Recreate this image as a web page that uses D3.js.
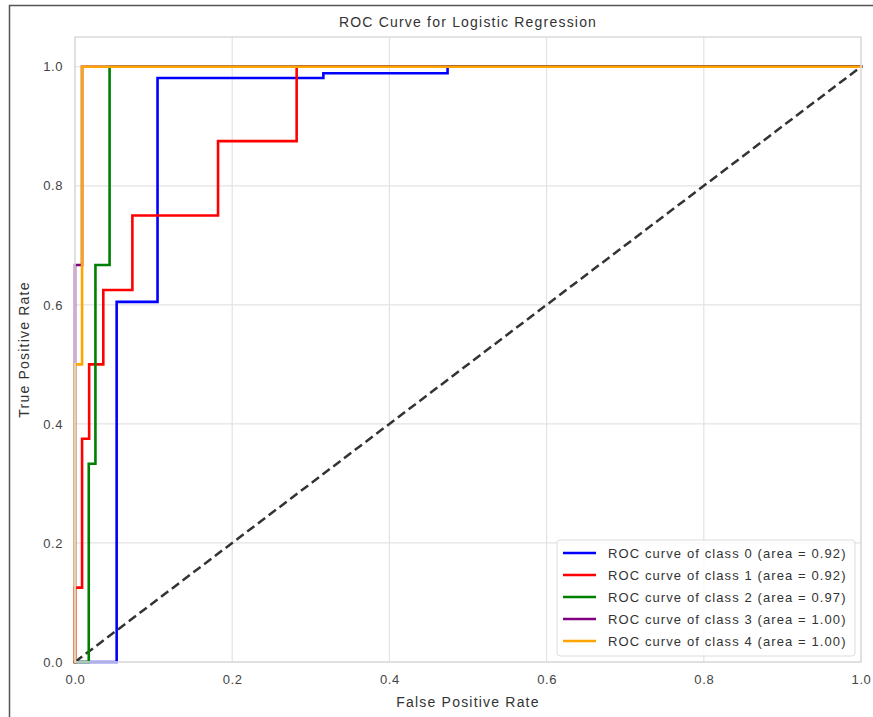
<!DOCTYPE html>
<html>
<head>
<meta charset="utf-8">
<script src="https://cdn.jsdelivr.net/npm/d3@7"></script>
<style>
  html, body { margin: 0; padding: 0; background: #fff; }
  svg { display: block; font-family: "Liberation Sans", Arial, sans-serif; }
</style>
</head>
<body>
<div id="chart"></div>
<script>
// --- Data ---
const classNames = ['class 0', 'class 1', 'class 2', 'class 3', 'class 4'];
const classColors = ['#0000ff', '#ff0000', '#008000', '#800080', '#ffa500'];
const classAreas = ['0.92', '0.92', '0.97', '1.00', '1.00'];

const fpr0 = [0, 0.053, 0.053, 0.105, 0.105, 0.316, 0.316, 0.474, 0.474, 1];
const tpr0 = [0, 0, 0.605, 0.605, 0.981, 0.981, 0.989, 0.989, 1, 1];

const fpr1 = [0, 0, 0.009, 0.009, 0.018, 0.018, 0.036, 0.036, 0.073, 0.073, 0.182, 0.182, 0.282, 0.282, 1];
const tpr1 = [0, 0.125, 0.125, 0.375, 0.375, 0.5, 0.5, 0.625, 0.625, 0.75, 0.75, 0.875, 0.875, 1, 1];

const fpr2 = [0, 0.0175, 0.0175, 0.026, 0.026, 0.044, 0.044, 1];
const tpr2 = [0, 0, 0.333, 0.333, 0.667, 0.667, 1, 1];

const fpr3 = [0, 0, 0.009, 0.009, 1];
const tpr3 = [0, 0.667, 0.667, 1, 1];

const fpr4 = [0, 0, 0.009, 0.009, 1];
const tpr4 = [0, 0.5, 0.5, 1, 1];

const fprs = [fpr0, fpr1, fpr2, fpr3, fpr4];
const tprs = [tpr0, tpr1, tpr2, tpr3, tpr4];

const diagonal = [0, 1];
const tickValues = [0, 0.2, 0.4, 0.6, 0.8, 1.0];

// --- Layout ---
const width = 873, height = 717;
const plot = {left: 75, right: 861, top: 37, bottom: 662};

const svg = d3.select('#chart').append('svg')
  .attr('width', width)
  .attr('height', height);

// outer frame of the screenshot (top and left edges only visible)
svg.append('rect')
  .attr('x', 9.5).attr('y', 5.5)
  .attr('width', width + 20).attr('height', height + 20)
  .attr('fill', 'none')
  .attr('stroke', '#555')
  .attr('stroke-width', 1.5);

const x = d3.scaleLinear().domain([0, 1]).range([plot.left, plot.right]);
const y = d3.scaleLinear().domain([0, 1.05]).range([plot.bottom, plot.top]);

// Grid
const grid = svg.append('g').attr('class', 'grid');
grid.selectAll('.vgrid')
  .data(tickValues)
  .join('line')
  .attr('x1', d => x(d)).attr('x2', d => x(d))
  .attr('y1', plot.top).attr('y2', plot.bottom)
  .attr('stroke', '#e3e3e3')
  .attr('stroke-width', 1.2);
grid.selectAll('.hgrid')
  .data(tickValues)
  .join('line')
  .attr('x1', plot.left).attr('x2', plot.right)
  .attr('y1', d => y(d)).attr('y2', d => y(d))
  .attr('stroke', '#e3e3e3')
  .attr('stroke-width', 1.2);

// Axes (labels only, no tick marks)
const fmt = d3.format('.1f');
svg.append('g')
  .attr('transform', `translate(0,${plot.bottom + 13})`)
  .call(d3.axisBottom(x).tickValues(tickValues).tickFormat(fmt).tickSize(0).tickPadding(0))
  .call(g => g.select('.domain').remove())
  .call(g => g.selectAll('text')
    .attr('font-size', 13).attr('fill', '#444')
    .attr('letter-spacing', '0.6px')
    .attr('font-family', '"Liberation Sans", Arial, sans-serif'));

svg.append('g')
  .attr('transform', `translate(${plot.left - 12},0)`)
  .call(d3.axisLeft(y).tickValues(tickValues).tickFormat(fmt).tickSize(0).tickPadding(0))
  .call(g => g.select('.domain').remove())
  .call(g => g.selectAll('text')
    .attr('font-size', 13).attr('fill', '#444')
    .attr('letter-spacing', '0.6px')
    .attr('font-family', '"Liberation Sans", Arial, sans-serif'));

// Diagonal reference
const line = d3.line()
  .x(d => x(d[0]))
  .y(d => y(d[1]));

svg.append('path')
  .datum(diagonal.map(v => [v, v]))
  .attr('fill', 'none')
  .attr('stroke', '#333')
  .attr('stroke-width', 2.5)
  .attr('stroke-dasharray', '9,4.5')
  .attr('d', line);

// ROC curves
const curves = svg.append('g').attr('class', 'curves');
fprs.forEach((fpr, i) => {
  curves.append('path')
    .datum(fpr.map((f, j) => [f, tprs[i][j]]))
    .attr('fill', 'none')
    .attr('stroke', classColors[i])
    .attr('stroke-width', 2.6)
    .attr('stroke-linecap', 'square')
    .attr('d', line);
});

// Spines drawn over the curves
svg.append('rect')
  .attr('x', plot.left).attr('y', plot.top)
  .attr('width', plot.right - plot.left)
  .attr('height', plot.bottom - plot.top)
  .attr('fill', 'none')
  .attr('stroke', '#dcdcdc')
  .attr('stroke-width', 1.6);

// Title and axis labels
svg.append('text')
  .attr('x', (plot.left + plot.right) / 2)
  .attr('y', 27)
  .attr('text-anchor', 'middle')
  .attr('font-size', 14)
  .attr('letter-spacing', '1.2px')
  .attr('fill', '#333')
  .text('ROC Curve for Logistic Regression');

svg.append('text')
  .attr('x', (plot.left + plot.right) / 2)
  .attr('y', 707)
  .attr('text-anchor', 'middle')
  .attr('font-size', 14)
  .attr('letter-spacing', '1.2px')
  .attr('fill', '#333')
  .text('False Positive Rate');

svg.append('text')
  .attr('transform', `translate(29,${(plot.top + plot.bottom) / 2}) rotate(-90)`)
  .attr('text-anchor', 'middle')
  .attr('font-size', 14)
  .attr('letter-spacing', '1.2px')
  .attr('fill', '#333')
  .text('True Positive Rate');

// Legend
const legend = svg.append('g').attr('transform', 'translate(557,540)');
legend.append('rect')
  .attr('width', 298).attr('height', 116)
  .attr('rx', 3)
  .attr('fill', '#fff').attr('fill-opacity', 0.8)
  .attr('stroke', '#dcdcdc');

const items = legend.selectAll('.item')
  .data(classNames)
  .join('g')
  .attr('transform', (d, i) => `translate(0,${13 + i * 22})`);
items.append('line')
  .attr('x1', 6).attr('x2', 39)
  .attr('stroke', (d, i) => classColors[i])
  .attr('stroke-width', 2.6);
items.append('text')
  .attr('x', 51).attr('y', 4.5)
  .attr('font-size', 13)
  .attr('letter-spacing', '1.1px')
  .attr('fill', '#333')
  .text((d, i) => `ROC curve of ${d} (area = ${classAreas[i]})`);
</script>
</body>
</html>
